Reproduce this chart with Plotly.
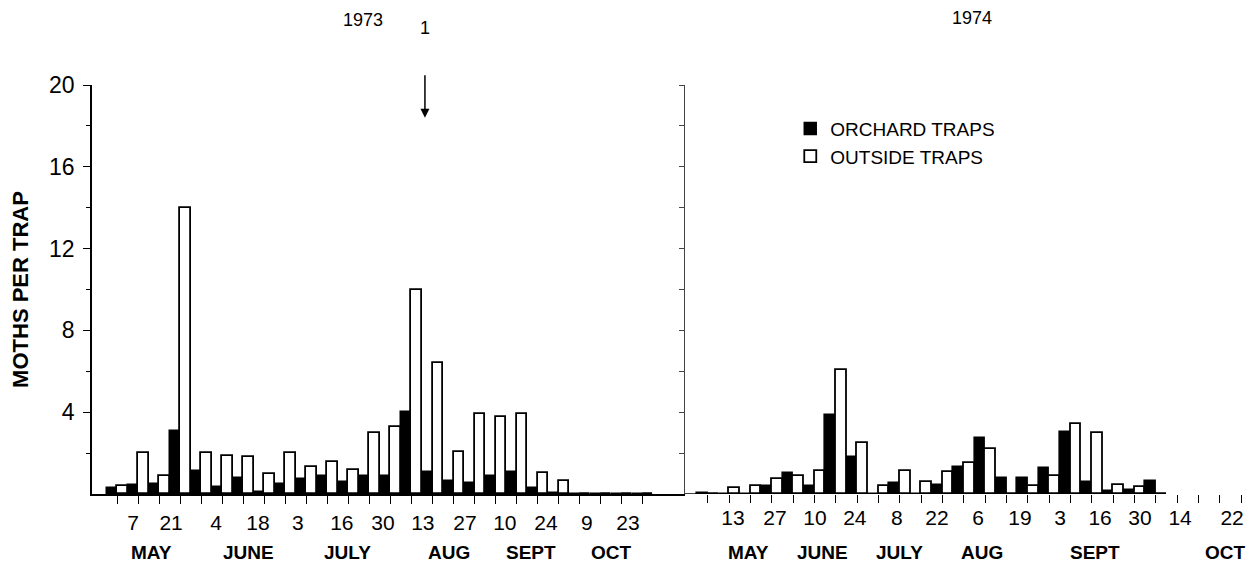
import plotly.graph_objects as go

# ---- data (weekly trap catches) ----
# 1973: weeks starting Apr 30 (index 0) through Oct 22 (index 25)
week73 = list(range(26))
orchard73 = [0.28, 0.44, 0.5, 3.08, 1.14, 0.33, 0.78, 0.1, 0.5, 0.73, 0.9, 0.58, 0.87,
             0.87, 4.0, 1.07, 0.62, 0.55, 0.87, 1.07, 0.3, 0.05, 0, 0, 0, 0]
outside73 = [0.37, 2.0, 0.88, 14.0, 2.0, 1.85, 1.8, 0.98, 2.0, 1.3, 1.58, 1.15, 2.97,
             3.3, 10.0, 6.4, 2.05, 3.9, 3.75, 3.9, 1.05, 0.65, 0, 0, 0, 0]
# 1974: weeks starting May 6 (index 0) through Sep 30 (index 21)
week74 = list(range(22))
orchard74 = [0.05, 0, 0, 0.37, 1.05, 0.37, 3.87, 1.79, 0, 0.54, 0, 0.45, 1.3, 2.76,
             0.78, 0.78, 1.27, 3.05, 0.61, 0.15, 0.2, 0.65]
outside74 = [0, 0.3, 0.4, 0.73, 0.86, 1.14, 6.05, 2.49, 0.37, 1.14, 0.57, 1.08, 1.54,
             2.19, 0, 0.4, 0.89, 3.44, 3.0, 0.42, 0.35, 0]

# tick labels (day of month) and where they sit along the week scale
day_lab73 = ["7", "21", "4", "18", "3", "16", "30", "13", "27", "10", "24", "9", "23"]
day_pos73 = [0.76, 2.57, 4.71, 6.7, 8.6, 10.69, 12.64, 14.54, 16.54, 18.44, 20.39, 22.34, 24.29]
day_lab74 = ["13", "27", "10", "24", "8", "22", "6", "19", "3", "16", "30", "14", "22"]
day_pos74 = [1.17, 3.14, 5.02, 6.89, 8.86, 10.74, 12.67, 14.63, 16.51, 18.39, 20.26, 22.14, 24.58]
months = ["MAY", "JUNE", "JULY", "AUG", "SEPT", "OCT"]
month_pos73 = [1.66, 6.23, 10.98, 15.78, 19.68, 23.53]
month_pos74 = [1.92, 5.35, 9.0, 12.85, 18.15, 24.25]

FONT = "Liberation Sans, Arial, sans-serif"
fig = go.Figure()

common_black = dict(marker=dict(color="black", line=dict(color="black", width=1.5)),
                    width=0.5, offset=-0.5)
common_white = dict(marker=dict(color="white", line=dict(color="black", width=1.8)),
                    width=0.5, offset=0)

fig.add_trace(go.Bar(x=week73, y=orchard73, name="ORCHARD TRAPS", legendgroup="o",
                     xaxis="x", yaxis="y", **common_black))
fig.add_trace(go.Bar(x=week73, y=outside73, name="OUTSIDE TRAPS", legendgroup="w",
                     xaxis="x", yaxis="y", **common_white))
fig.add_trace(go.Bar(x=week74, y=orchard74, name="ORCHARD TRAPS", legendgroup="o",
                     showlegend=False, xaxis="x2", yaxis="y2", **common_black))
fig.add_trace(go.Bar(x=week74, y=outside74, name="OUTSIDE TRAPS", legendgroup="w",
                     showlegend=False, xaxis="x2", yaxis="y2", **common_white))

split = 0.512
xcommon = dict(showgrid=False, zeroline=False, ticks="", ticklen=0, automargin=False,
               tickfont=dict(family=FONT, size=21, color="black"),
               ticklabelstandoff=9)
xminor = dict(ticks="outside", ticklen=8, tickwidth=1.3, tickcolor="black",
              showgrid=False, tickmode="array", tickvals=list(range(26)))

annotations = []
for m, p in zip(months, month_pos73):
    annotations.append(dict(x=p, y=-0.142, xref="x", yref="paper", text=f"<b>{m}</b>",
                            yanchor="middle", xanchor="center",
                            showarrow=False, font=dict(family=FONT, size=19, color="black")))
for m, p in zip(months, month_pos74):
    annotations.append(dict(x=p, y=-0.142, xref="x2", yref="paper", text=f"<b>{m}</b>",
                            yanchor="middle", xanchor="center",
                            showarrow=False, font=dict(family=FONT, size=19, color="black")))
annotations.append(dict(x=11.7, y=1.159, xref="x", yref="paper", text="1973", showarrow=False,
                        yanchor="middle", xanchor="center",
                        font=dict(family=FONT, size=18, color="black")))
annotations.append(dict(x=12.38, y=1.164, xref="x2", yref="paper", text="1974", showarrow=False,
                        yanchor="middle", xanchor="center",
                        font=dict(family=FONT, size=18, color="black")))
annotations.append(dict(x=14.64, y=18.4, xref="x", yref="y", text="1", showarrow=True,
                        ax=0, ay=-90, arrowhead=2, arrowsize=1.2, arrowwidth=1.5,
                        arrowcolor="black", startstandoff=36,
                        font=dict(family=FONT, size=18, color="black")))

fig.update_layout(
    width=1248, height=568,
    margin=dict(l=84, r=6, t=77, b=82, autoexpand=False),
    paper_bgcolor="white", plot_bgcolor="white",
    font=dict(family=FONT, color="black"),
    bargap=0,
    xaxis=dict(domain=[0, split], range=[-1.19, 27.0], anchor="y",
               showline=True, linecolor="black", linewidth=1.5,
               tickmode="array", tickvals=day_pos73, ticktext=day_lab73,
               minor=xminor, **xcommon),
    xaxis2=dict(domain=[split, 1], range=[-1.08, 25.42], anchor="y2",
                showline=False,
                tickmode="array", tickvals=day_pos74, ticktext=day_lab74,
                minor=xminor, **xcommon),
    yaxis=dict(domain=[0, 1], range=[0, 20], anchor="x", showgrid=False, zeroline=False,
               automargin=False,
               showline=True, linecolor="black", linewidth=1.5,
               tickmode="array", tickvals=[4, 8, 12, 16, 20], ticks="outside", ticklen=7,
               tickwidth=1.3, tickcolor="black", ticklabelstandoff=4,
               tickfont=dict(family=FONT, size=23, color="black"),
               minor=dict(tickmode="array", tickvals=[2, 6, 10, 14, 18], ticks="outside",
                          ticklen=4, tickcolor="black", showgrid=False),
               title=dict(text="<b>MOTHS PER TRAP</b>", standoff=14,
                          font=dict(family=FONT, size=22, color="black"))),
    yaxis2=dict(domain=[0, 1], range=[0, 20], anchor="x2", matches="y", showgrid=False,
                zeroline=False, showline=True, linecolor="#444", linewidth=1,
                automargin=False,
                showticklabels=False, tickmode="array",
                tickvals=[2, 4, 6, 8, 10, 12, 14, 16, 18, 20],
                ticks="outside", ticklen=5, tickcolor="#444"),
    legend=dict(x=0.603, y=0.94, xanchor="left", yanchor="top",
                bgcolor="rgba(0,0,0,0)", tracegroupgap=0,
                font=dict(family=FONT, size=19, color="black")),
    shapes=[dict(type="line", xref="x2", yref="y2", x0=-1.08, x1=21.3, y0=0, y1=0,
                 line=dict(color="black", width=1.5))],
    annotations=annotations,
)

fig.write_html("out.html")
